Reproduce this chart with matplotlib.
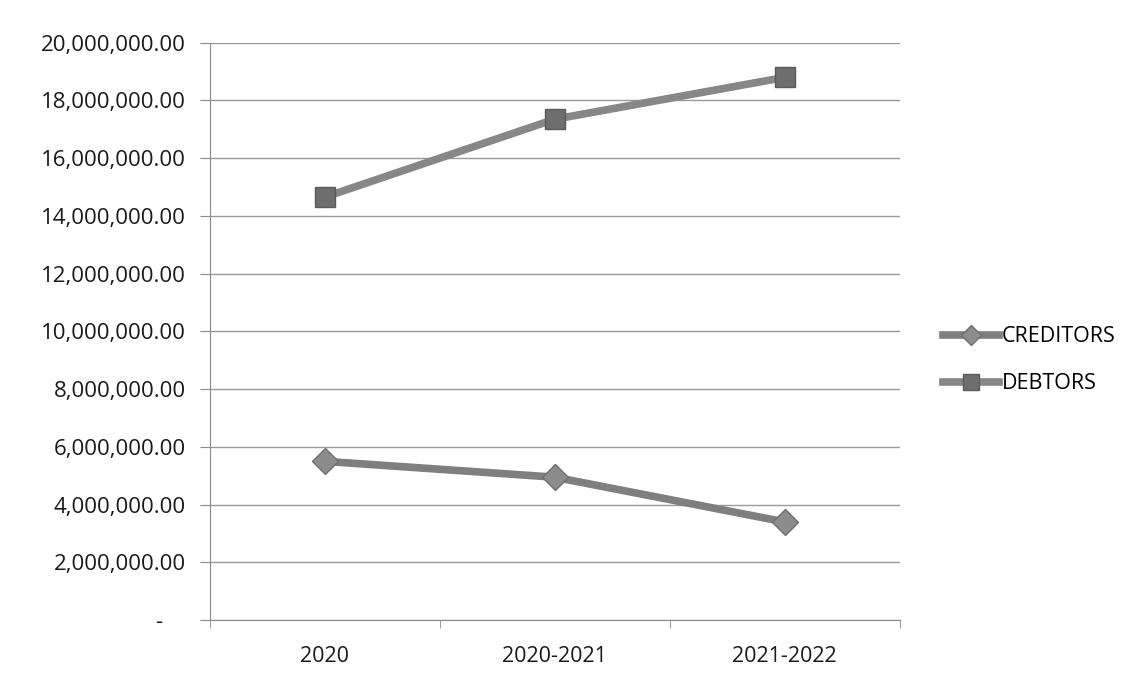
import matplotlib.pyplot as plt
from matplotlib.ticker import FuncFormatter, MultipleLocator

# Datos del grafico
periods = ['2020', '2020-2021', '2021-2022']
creditors = [5500000, 4950000, 3400000]
debtors = [14650000, 17350000, 18800000]

plt.rcParams['font.family'] = ['Open Sans', 'DejaVu Sans']

fig = plt.figure(figsize=(11.39, 6.89), dpi=100)
ax = fig.add_axes([0.184, 0.100, 0.606, 0.838])

x = list(range(len(periods)))
ax.plot(x, creditors, color='#7f7f7f', linewidth=5.5, marker='D', markersize=13,
        markerfacecolor='#8c8c8c', markeredgecolor='#6f6f6f', label='CREDITORS', zorder=3)
ax.plot(x, debtors, color='#878787', linewidth=5.5, marker='s', markersize=15,
        markerfacecolor='#6e6e6e', markeredgecolor='#5a5a5a', label='DEBTORS', zorder=3)

# Eje Y con formato contable
def fmt(v, pos):
    if v == 0:
        return '-    '
    return f'{v:,.2f}'

ax.set_ylim(0, 20000000)
ax.yaxis.set_major_locator(MultipleLocator(2000000))
ax.yaxis.set_major_formatter(FuncFormatter(fmt))
ax.grid(axis='y', color='#9a9a9a', linewidth=1)
ax.set_axisbelow(True)

# Eje X por categorias
ax.set_xlim(-0.5, 2.5)
ax.set_xticks(x)
ax.set_xticklabels(periods)
ax.set_xticks([-0.5, 0.5, 1.5, 2.5], minor=True)
ax.tick_params(axis='x', which='major', length=0, pad=19, labelsize=15.5, colors='#1a1a1a')
ax.tick_params(axis='x', which='minor', length=6, color='#8a8a8a')
ax.tick_params(axis='y', length=7, color='#8a8a8a', labelsize=16, labelcolor='#1a1a1a', pad=10)

for side in ['top', 'right']:
    ax.spines[side].set_visible(False)
ax.spines['left'].set_color('#8a8a8a')
ax.spines['bottom'].set_color('#8a8a8a')

ax.legend(loc='center left', bbox_to_anchor=(1.035, 0.45), frameon=False, fontsize=15.5,
          handlelength=2.6, handletextpad=0.1, labelspacing=1.2, markerscale=0.75)

plt.savefig('out.png', dpi=100)
